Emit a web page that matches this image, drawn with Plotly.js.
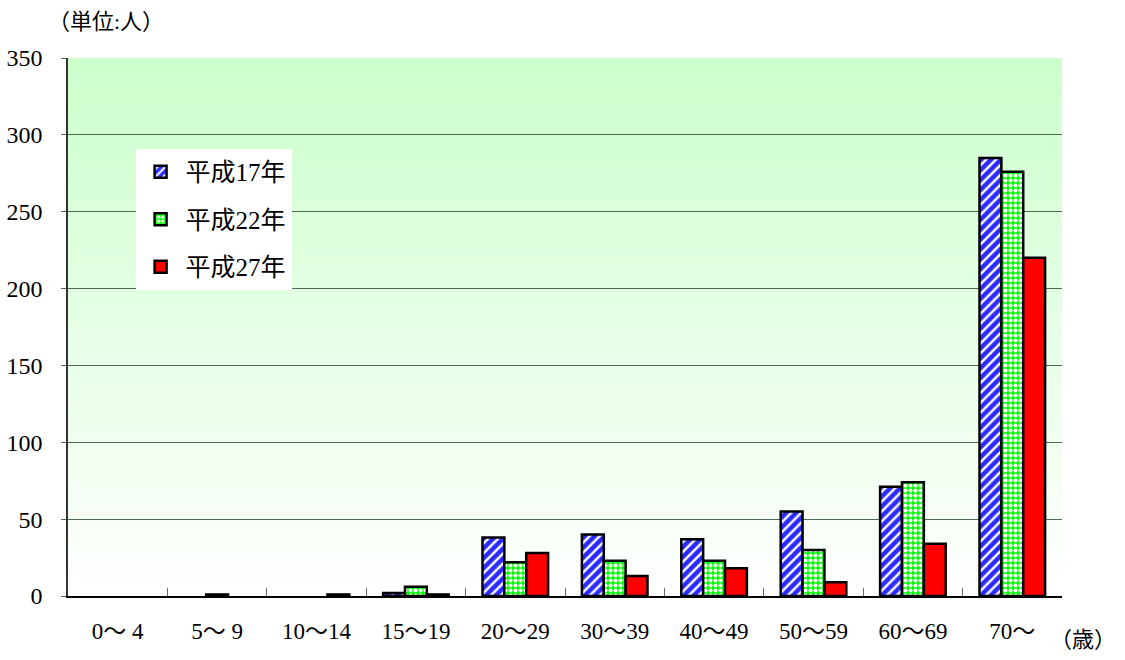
<!DOCTYPE html>
<html>
<head>
<meta charset="utf-8">
<script src="https://cdn.plot.ly/plotly-3.0.1.min.js"></script>
<style>html,body{margin:0;padding:0;background:#fff;}#chart{width:1125px;height:660px;}</style>
</head>
<body>
<div id="chart"></div>
<script>
const categories = ["0～ 4", "5～ 9", "10～14", "15～19", "20～29", "30～39", "40～49", "50～59", "60～69", "70～"];
const seriesNames = ["平成17年", "平成22年", "平成27年"];
const h17 = [0, 0, 0, 2, 38, 40, 37, 55, 71, 285];
const h22 = [0, 1, 0, 6, 22, 23, 23, 30, 74, 276];
const h27 = [0, 0, 1, 1, 28, 13, 18, 9, 34, 220];
const yTicks = [0, 50, 100, 150, 200, 250, 300, 350];

const FONT = "Liberation Serif, Noto Sans CJK JP, serif";
const noZero = arr => arr.map(v => (v === 0 ? null : v));

const grad = 'data:image/svg+xml;utf8,' + encodeURIComponent(
  '<svg xmlns="http://www.w3.org/2000/svg" width="100" height="100" preserveAspectRatio="none">' +
  '<defs><linearGradient id="g" x1="0" y1="0" x2="0" y2="1">' +
  '<stop offset="0" stop-color="#ccffcc"/><stop offset="1" stop-color="#ffffff"/>' +
  '</linearGradient></defs><rect width="100" height="100" fill="url(#g)"/></svg>');

const line = {color: '#000', width: 2.5};
const traces = [
  {type: 'bar', name: seriesNames[0], x: categories, y: noZero(h17), legendgroup: 'a',
   marker: {color: '#3333ff', line: line,
            pattern: {shape: '/', fgcolor: '#ffffff', bgcolor: '#2a2aff', size: 7, solidity: 0.35, fillmode: 'replace'}}},
  {type: 'bar', name: seriesNames[1], x: categories, y: noZero(h22), legendgroup: 'b',
   marker: {color: '#00ff00', line: line,
            pattern: {shape: '.', fgcolor: '#ffffff', bgcolor: '#00ff00', size: 5, solidity: 0.5, fillmode: 'replace'}}},
  {type: 'bar', name: seriesNames[2], x: categories, y: noZero(h27), legendgroup: 'c',
   marker: {color: '#ff0000', line: line}}
];

const layout = {
  width: 1125, height: 660,
  margin: {l: 68, r: 63, t: 58, b: 64},
  paper_bgcolor: '#ffffff',
  plot_bgcolor: 'rgba(0,0,0,0)',
  barmode: 'group', bargap: 0.34, bargroupgap: 0,
  font: {family: FONT, size: 22, color: '#000'},
  xaxis: {
    type: 'category', showline: true, linecolor: '#000', linewidth: 2,
    ticks: 'inside', tickson: 'boundaries', ticklen: 8, tickcolor: '#666', tickwidth: 1,
    ticklabelstandoff: 13, showgrid: false,
    tickfont: {family: FONT, size: 23}
  },
  yaxis: {
    range: [0, 350], tickvals: yTicks, ticktext: yTicks.map(String),
    showline: true, linecolor: '#333', linewidth: 1.5,
    showgrid: true, gridcolor: '#4d6b4d', gridwidth: 1,
    zeroline: false, ticks: 'outside', ticklen: 5, tickcolor: '#4d6b4d', ticklabelstandoff: 14,
    tickfont: {family: FONT, size: 24}
  },
  legend: {
    x: 0.068, y: 0.831, xanchor: 'left', yanchor: 'top',
    bgcolor: '#ffffff', borderwidth: 0,
    traceorder: 'grouped', tracegroupgap: 12,
    font: {family: FONT, size: 25},
    itemwidth: 40
  },
  images: [{source: grad, xref: 'paper', yref: 'paper', x: 0, y: 1, sizex: 1, sizey: 1,
            sizing: 'stretch', layer: 'below', xanchor: 'left', yanchor: 'top'}],
  annotations: [
    {text: '（単位:人）', xref: 'paper', yref: 'paper', x: -0.022, y: 1.04, xanchor: 'left', yanchor: 'bottom',
     showarrow: false, font: {family: FONT, size: 22}},
    {text: '（歳）', xref: 'paper', yref: 'paper', x: 1.056, y: -0.108, xanchor: 'right', yanchor: 'bottom',
     showarrow: false, font: {family: FONT, size: 22}}
  ]
};

Plotly.newPlot('chart', traces, layout, {displayModeBar: false});
</script>
</body>
</html>
